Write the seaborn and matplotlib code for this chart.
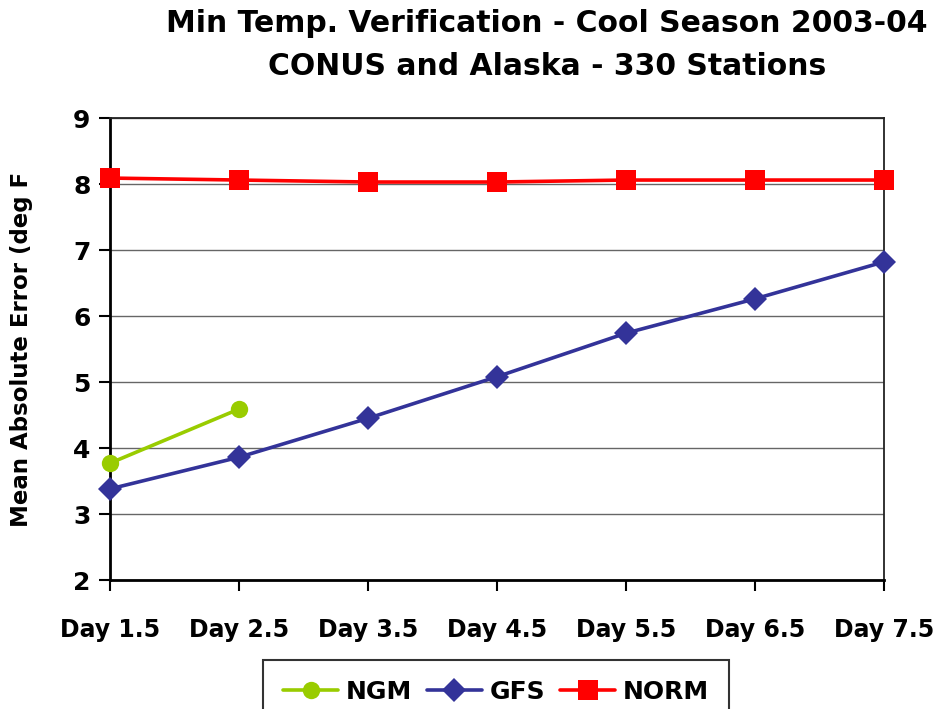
import pandas as pd
import numpy as np
import matplotlib
matplotlib.use("Agg")
import matplotlib.pyplot as plt
import seaborn as sns
from matplotlib.lines import Line2D

# Data
days = ["Day 1.5", "Day 2.5", "Day 3.5", "Day 4.5", "Day 5.5", "Day 6.5", "Day 7.5"]
norm_mae = [8.09, 8.06, 8.03, 8.03, 8.06, 8.06, 8.06]
gfs_mae = [3.38, 3.86, 4.45, 5.08, 5.74, 6.26, 6.82]
ngm_days = ["Day 1.5", "Day 2.5"]
ngm_mae = [3.77, 4.59]

colors = {"NGM": "#99CC00", "GFS": "#333399", "NORM": "#FF0000"}

sns.set_theme(style="white")
plt.rcParams['font.family'] = ['DejaVu Sans']
plt.rcParams['font.weight'] = 'bold'
plt.rcParams['text.color'] = 'black'
plt.rcParams['axes.labelcolor'] = 'black'
plt.rcParams['xtick.color'] = 'black'
plt.rcParams['ytick.color'] = 'black'

fig = plt.figure(figsize=(9.41, 7.09), dpi=100)
ax = fig.add_axes([110 / 941, 1 - 580 / 709, (884 - 110) / 941, (580 - 118) / 709])

norm_df = pd.DataFrame({"day": days, "mae": norm_mae})
gfs_df = pd.DataFrame({"day": days, "mae": gfs_mae})
ngm_df = pd.DataFrame({"day": ngm_days, "mae": ngm_mae})

line_kw = dict(lw=2.6, markeredgewidth=0, sort=False, clip_on=False, zorder=5)
sns.lineplot(data=norm_df, x="day", y="mae", ax=ax, color=colors["NORM"],
             marker="s", markersize=14, **line_kw)
sns.lineplot(data=gfs_df, x="day", y="mae", ax=ax, color=colors["GFS"],
             marker="D", markersize=12, **line_kw)
sns.lineplot(data=ngm_df, x="day", y="mae", ax=ax, color=colors["NGM"],
             marker="o", markersize=12.5, **line_kw)

ax.set_xlim(0, len(days) - 1)
ax.set_ylim(2, 9)
ax.set_yticks(range(2, 10))
ax.yaxis.grid(True, color="#666666", lw=1)
ax.set_axisbelow(True)

for side in ["left", "bottom"]:
    ax.spines[side].set_color("black")
    ax.spines[side].set_linewidth(2)
for side in ["top", "right"]:
    ax.spines[side].set_color("#222222")
    ax.spines[side].set_linewidth(1.3)

ax.tick_params(axis="both", which="major", length=8, width=1.5,
               color="black", direction="out", bottom=True, left=True)
ax.tick_params(axis="x", labelsize=17, pad=19)
ax.tick_params(axis="y", labelsize=18, pad=6)
for lab in ax.get_xticklabels() + ax.get_yticklabels():
    lab.set_fontweight("bold")

ax.set_xlabel("")
ax.set_ylabel("Mean Absolute Error (deg F", fontsize=16.5, fontweight="bold", labelpad=29)

fig.text(547 / 941, 1 - 9 / 709, "Min Temp. Verification - Cool Season 2003-04\nCONUS and Alaska - 330 Stations",
         ha="center", va="top", fontsize=21.5, fontweight="bold", linespacing=1.6)

handles = [
    Line2D([], [], color=colors["NGM"], lw=2.6, marker="o", markersize=12.5, markeredgewidth=0),
    Line2D([], [], color=colors["GFS"], lw=2.6, marker="D", markersize=12, markeredgewidth=0),
    Line2D([], [], color=colors["NORM"], lw=2.6, marker="s", markersize=14, markeredgewidth=0),
]
leg = fig.legend(handles, ["NGM", "GFS", "NORM"], ncol=3, loc="upper center",
                 bbox_to_anchor=(496 / 941, 1 - 660 / 709), borderaxespad=0,
                 frameon=True, fancybox=False,
                 prop={"size": 18, "weight": "bold"}, handlelength=2.2, columnspacing=0.6,
                 handletextpad=0.3, borderpad=0.8)
leg.get_frame().set_edgecolor("black")
leg.get_frame().set_linewidth(1.5)

fig.savefig("out.png", dpi=100)
